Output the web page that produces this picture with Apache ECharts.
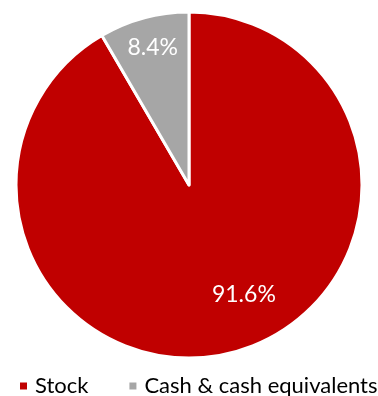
<!DOCTYPE html>
<html><head><meta charset="utf-8">
<script src="https://cdn.jsdelivr.net/npm/echarts@6/dist/echarts.min.js"></script>
<style>html,body{margin:0;padding:0;background:#fff}#c{width:378px;height:396px}</style>
</head><body><div id="c"></div>
<script>
const categories = ['Stock', 'Cash & cash equivalents'];
const values = [91.6, 8.4];
const colors = ['#C00000', '#A6A6A6'];
const labelTexts = ['91.6%', '8.4%'];
// label placement (polar: angle deg, radius px from centre)
const labelAngles = [-63.5, 104.8];
const labelRadii = [123, 142];
const CX = 189, CY = 185, R = 173;

const chart = echarts.init(document.getElementById('c'), null, {renderer: 'canvas'});
chart.setOption({
  animation: false,
  legend: {
    left: 18, top: 375, padding: 0, width: 400, orient: 'horizontal',
    icon: 'rect', itemWidth: 9, itemHeight: 9, itemGap: 39,
    textStyle: {fontFamily: 'Lato', fontSize: 22, color: '#000', padding: [0, 0, 0, 2]},
    data: categories
  },
  series: [{
    type: 'pie',
    center: [CX, CY],
    radius: [0, R],
    startAngle: 90,
    clockwise: true,
    data: categories.map((n, i) => ({name: n, value: values[i], itemStyle: {color: colors[i]}})),
    itemStyle: {borderColor: '#fff', borderWidth: 3},
    label: {
      show: true, position: 'inside',
      formatter: p => labelTexts[p.dataIndex],
      color: '#fff', fontFamily: 'Lato', fontSize: 23
    },
    labelLayout: p => {
      const a = labelAngles[p.dataIndex] * Math.PI / 180;
      const r = labelRadii[p.dataIndex];
      return {x: CX + r * Math.cos(a), y: CY - r * Math.sin(a), align: 'center', verticalAlign: 'middle'};
    },
    emphasis: {disabled: true}
  }]
});
</script></body></html>
